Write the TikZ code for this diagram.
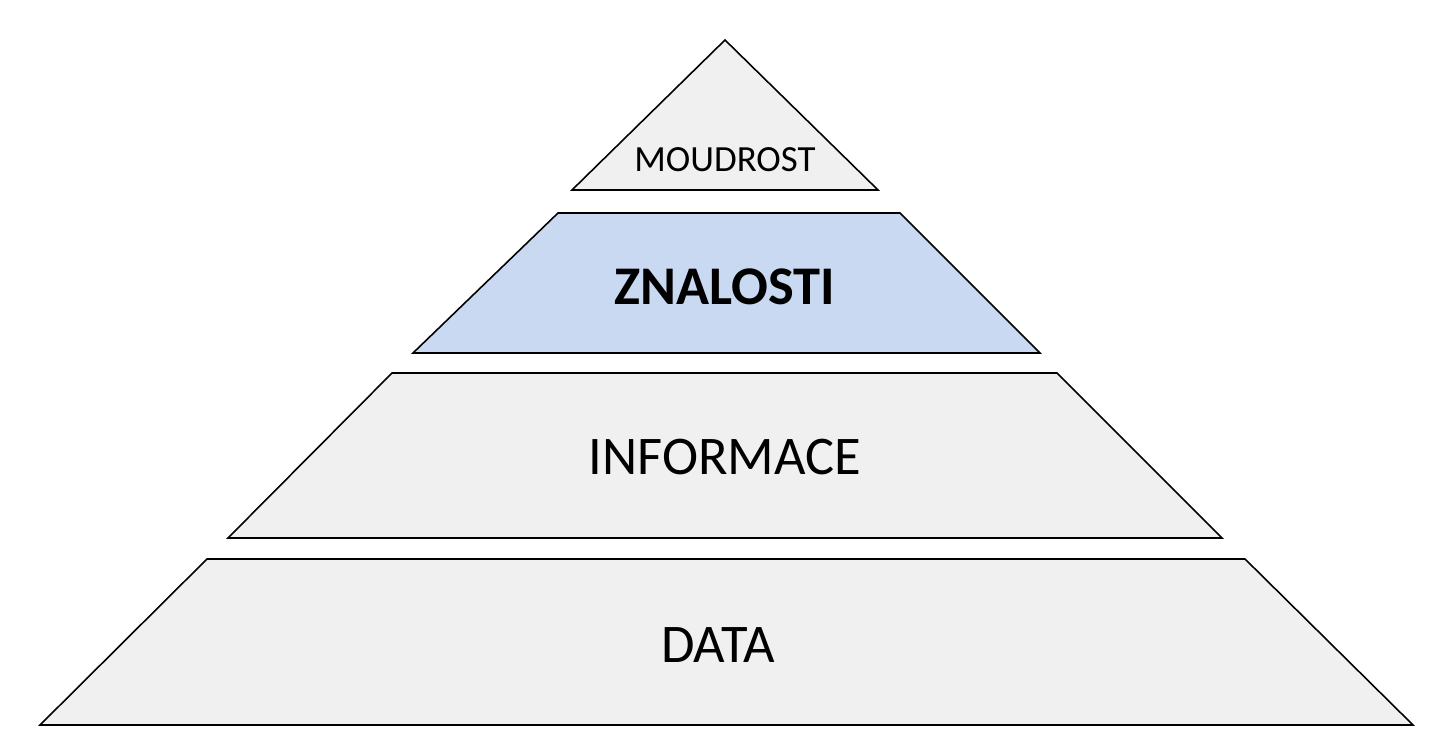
\documentclass[tikz,border=0pt]{standalone}
\usepackage{fontspec}
\setmainfont{Carlito}
\definecolor{layergray}{HTML}{F0F0F0}
\definecolor{layerblue}{HTML}{C9D9F2}
\tikzset{
	layer/.style={draw=black, line width=.9pt, fill=layergray},
	label/.style={font=\fontsize{31}{36}\selectfont}
}
\begin{document}
\begin{tikzpicture}[x=0.02cm, y=-0.02cm]
		\useasboundingbox (0, 0) rectangle (1452, 736);
		\filldraw[layer] (725, 40) -- (878, 190) -- (572, 190) -- cycle;
		\filldraw[layer, fill=layerblue] (558, 213) -- (900, 213) -- (1040, 353) -- (413, 353) -- cycle;
		\filldraw[layer] (392, 373) -- (1057, 373) -- (1222, 538) -- (228, 538) -- cycle;
		\filldraw[layer] (207, 559) -- (1245, 559) -- (1413, 725) -- (40, 725) -- cycle;

		\node[label, font=\fontsize{21}{25}\selectfont] (moudrost) at (725, 160) {MOUDROST};
		\node[label, font=\fontsize{31}{36}\selectfont\bfseries] (znalosti) at (725, 287) {ZNALOSTI};
		\node[label] (informace) at (725, 457) {INFORMACE};
		\node[label] (data) at (718, 645) {DATA};
	\end{tikzpicture}
\end{document}
